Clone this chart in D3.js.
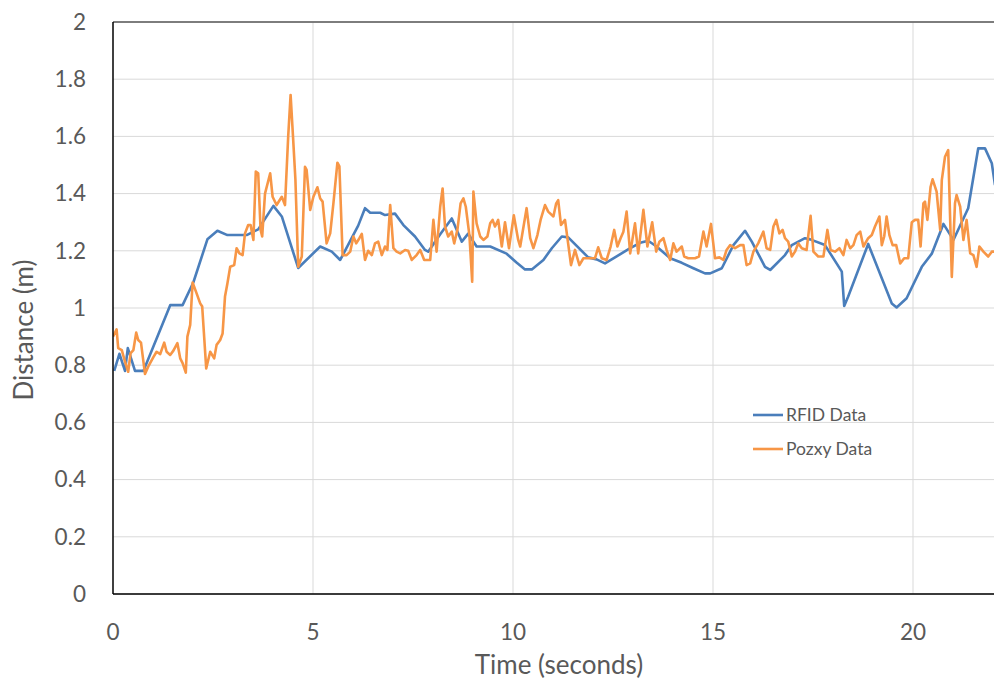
<!DOCTYPE html>
<html><head><meta charset="utf-8">
<script src="https://cdn.jsdelivr.net/npm/d3@7"></script>
<style>body{margin:0;background:#fff;}svg{display:block;}</style>
</head><body>
<svg id="c" width="994" height="679"></svg>
<script>
const rfidTime = [0.03,0.16,0.30,0.37,0.55,0.76,1.43,1.74,2.01,2.36,2.61,2.86,3.34,3.63,4.01,4.22,4.63,5.18,5.47,5.68,6.13,6.30,6.43,6.68,6.80,7.05,7.26,7.55,7.80,7.88,8.18,8.47,8.72,8.88,9.09,9.43,9.84,10.08,10.30,10.47,10.76,10.97,11.22,11.38,11.88,12.09,12.30,12.55,12.93,13.18,13.38,13.59,13.93,14.22,14.51,14.80,14.93,15.22,15.51,15.80,15.97,16.30,16.43,16.80,16.97,17.30,17.43,17.80,18.22,18.28,18.38,18.88,19.47,19.59,19.84,20.22,20.47,20.76,21.01,21.38,21.63,21.80,21.97,22.05];
const rfidDist = [0.78,0.84,0.78,0.86,0.78,0.78,1.01,1.01,1.09,1.24,1.27,1.255,1.255,1.275,1.357,1.32,1.14,1.215,1.197,1.168,1.288,1.349,1.333,1.333,1.325,1.33,1.29,1.25,1.203,1.197,1.258,1.313,1.232,1.26,1.215,1.215,1.19,1.16,1.135,1.135,1.168,1.209,1.25,1.247,1.177,1.17,1.156,1.177,1.209,1.228,1.235,1.215,1.174,1.158,1.139,1.121,1.121,1.139,1.22,1.27,1.232,1.144,1.133,1.185,1.22,1.244,1.24,1.22,1.127,1.007,1.04,1.224,1.016,1.002,1.034,1.144,1.19,1.294,1.238,1.349,1.558,1.558,1.506,1.43];

const pozxyTime = [0.00,0.09,0.13,0.22,0.30,0.38,0.44,0.51,0.58,0.63,0.70,0.80,0.88,1.01,1.09,1.18,1.28,1.34,1.43,1.51,1.61,1.68,1.74,1.82,1.86,1.93,1.99,2.09,2.18,2.23,2.33,2.43,2.53,2.59,2.68,2.74,2.80,2.86,2.93,3.03,3.09,3.16,3.24,3.30,3.38,3.44,3.51,3.57,3.63,3.69,3.73,3.80,3.93,3.99,4.09,4.22,4.30,4.38,4.44,4.50,4.56,4.63,4.72,4.80,4.84,4.93,5.01,5.11,5.18,5.24,5.34,5.43,5.51,5.61,5.66,5.74,5.84,5.93,6.01,6.08,6.16,6.22,6.30,6.38,6.47,6.55,6.63,6.72,6.80,6.86,6.93,7.01,7.09,7.18,7.30,7.38,7.47,7.59,7.68,7.78,7.93,8.01,8.09,8.18,8.24,8.30,8.38,8.47,8.53,8.61,8.69,8.76,8.82,8.91,8.98,9.01,9.09,9.18,9.26,9.36,9.43,9.49,9.55,9.63,9.72,9.80,9.90,10.02,10.13,10.18,10.34,10.43,10.51,10.61,10.69,10.80,10.88,11.01,11.08,11.13,11.20,11.30,11.45,11.55,11.66,11.76,11.93,12.05,12.13,12.22,12.34,12.44,12.53,12.61,12.69,12.76,12.84,12.93,13.05,13.13,13.26,13.36,13.48,13.58,13.66,13.76,13.84,13.93,14.01,14.09,14.22,14.28,14.38,14.55,14.65,14.76,14.84,14.95,15.05,15.16,15.26,15.34,15.43,15.55,15.68,15.76,15.84,15.93,16.01,16.13,16.26,16.34,16.43,16.51,16.58,16.66,16.74,16.80,16.88,16.97,17.05,17.13,17.22,17.34,17.44,17.51,17.63,17.76,17.86,17.94,18.05,18.16,18.26,18.34,18.43,18.51,18.59,18.68,18.76,18.88,18.97,19.05,19.16,19.22,19.28,19.34,19.41,19.49,19.58,19.68,19.78,19.88,19.97,20.05,20.13,20.19,20.26,20.30,20.36,20.44,20.49,20.59,20.68,20.72,20.80,20.88,20.97,21.05,21.09,21.18,21.26,21.34,21.43,21.51,21.59,21.66,21.76,21.88,21.97,22.03];
const pozxyDist = [0.90,0.925,0.86,0.853,0.812,0.777,0.842,0.853,0.914,0.888,0.879,0.769,0.795,0.828,0.847,0.839,0.879,0.847,0.836,0.851,0.877,0.824,0.807,0.774,0.90,0.941,1.089,1.051,1.016,1.005,0.789,0.847,0.824,0.871,0.888,0.911,1.04,1.086,1.144,1.15,1.209,1.191,1.185,1.261,1.29,1.29,1.238,1.477,1.471,1.273,1.25,1.40,1.471,1.389,1.36,1.389,1.36,1.60,1.745,1.60,1.45,1.144,1.18,1.494,1.483,1.343,1.389,1.422,1.383,1.372,1.226,1.261,1.366,1.508,1.495,1.185,1.185,1.197,1.25,1.226,1.244,1.259,1.168,1.20,1.185,1.226,1.232,1.185,1.215,1.203,1.36,1.209,1.197,1.191,1.203,1.20,1.168,1.185,1.203,1.168,1.168,1.308,1.197,1.354,1.418,1.285,1.25,1.267,1.226,1.273,1.366,1.383,1.354,1.255,1.092,1.407,1.296,1.25,1.238,1.25,1.296,1.308,1.285,1.308,1.215,1.30,1.209,1.324,1.238,1.215,1.349,1.244,1.209,1.255,1.308,1.36,1.337,1.32,1.366,1.377,1.29,1.308,1.15,1.203,1.15,1.174,1.174,1.174,1.212,1.174,1.168,1.215,1.273,1.215,1.244,1.267,1.337,1.191,1.296,1.191,1.343,1.215,1.30,1.197,1.232,1.244,1.203,1.168,1.226,1.197,1.215,1.18,1.174,1.174,1.18,1.267,1.215,1.294,1.174,1.177,1.168,1.203,1.22,1.209,1.22,1.22,1.15,1.156,1.197,1.226,1.267,1.209,1.203,1.285,1.308,1.261,1.273,1.244,1.232,1.18,1.197,1.226,1.209,1.203,1.322,1.197,1.18,1.18,1.273,1.203,1.197,1.209,1.185,1.238,1.209,1.22,1.255,1.267,1.215,1.244,1.255,1.285,1.32,1.22,1.25,1.32,1.255,1.22,1.22,1.156,1.174,1.174,1.30,1.308,1.308,1.215,1.366,1.372,1.308,1.424,1.45,1.407,1.273,1.447,1.529,1.552,1.109,1.366,1.395,1.354,1.238,1.308,1.191,1.185,1.144,1.215,1.197,1.18,1.197,1.197];

const xTicks = [0,5,10,15,20];
const yTicks = [0,0.2,0.4,0.6,0.8,1,1.2,1.4,1.6,1.8,2];
const seriesNames = ["RFID Data","Pozxy Data"];
const seriesColors = ["#4A7EBB","#F79646"];

const svg = d3.select("#c");
const L = 113, R = 993, T = 22, B = 594;
const x = d3.scaleLinear().domain([0,22]).range([L,R]);
const y = d3.scaleLinear().domain([0,2]).range([B,T]);
const font = "Lato, 'Open Sans', sans-serif";
const txt = "#595959";

// gridlines
svg.append("g").selectAll("line").data(yTicks).join("line")
  .attr("x1",L).attr("x2",994).attr("y1",d=>y(d)).attr("y2",d=>y(d))
  .attr("stroke","#D9D9D9").attr("stroke-width",1);
svg.append("g").selectAll("line").data(xTicks.filter(d=>d>0)).join("line")
  .attr("x1",d=>x(d)).attr("x2",d=>x(d)).attr("y1",T).attr("y2",B)
  .attr("stroke","#D9D9D9").attr("stroke-width",1);

// clip
svg.append("clipPath").attr("id","clip").append("rect")
  .attr("x",L).attr("y",T-5).attr("width",R-L+1).attr("height",B-T+5);

const line = d3.line().x(d=>x(d[0])).y(d=>y(d[1]));
const rfid = rfidTime.map((t,i)=>[t,rfidDist[i]]);
const pozxy = pozxyTime.map((t,i)=>[t,pozxyDist[i]]);
const g = svg.append("g").attr("clip-path","url(#clip)");
g.append("path").datum(rfid).attr("d",line).attr("fill","none")
  .attr("stroke",seriesColors[0]).attr("stroke-width",2.6).attr("stroke-linejoin","round");
g.append("path").datum(pozxy).attr("d",line).attr("fill","none")
  .attr("stroke",seriesColors[1]).attr("stroke-width",2.6).attr("stroke-linejoin","round");

// frame
svg.append("line").attr("x1",L).attr("x2",994).attr("y1",T).attr("y2",T).attr("stroke","#595959").attr("stroke-width",1.5);
svg.append("line").attr("x1",L).attr("x2",L).attr("y1",T).attr("y2",B).attr("stroke","#000").attr("stroke-width",1.5);
svg.append("line").attr("x1",L).attr("x2",994).attr("y1",B).attr("y2",B).attr("stroke","#000").attr("stroke-width",1.5);

// tick labels
svg.append("g").selectAll("text").data(yTicks).join("text")
  .attr("x",86).attr("y",d=>y(d)).attr("dy","0.35em").attr("text-anchor","end")
  .attr("font-family",font).attr("font-size",22.5).attr("fill",txt).text(d=>d3.format("~g")(d));
svg.append("g").selectAll("text").data(xTicks).join("text")
  .attr("x",d=>x(d)).attr("y",632).attr("dy","0.35em").attr("text-anchor","middle")
  .attr("font-family",font).attr("font-size",22.5).attr("fill",txt).text(d=>d);

// axis titles
svg.append("text").attr("x",559).attr("y",665).attr("dy","0.35em").attr("text-anchor","middle")
  .attr("font-family",font).attr("font-size",26).attr("fill",txt).text("Time (seconds)");
svg.append("text").attr("transform","translate(24,330) rotate(-90)").attr("dy","0.35em").attr("text-anchor","middle")
  .attr("font-family",font).attr("font-size",26).attr("fill",txt).text("Distance (m)");

// legend
const lg = svg.append("g");
seriesNames.forEach((n,i)=>{
  const yy = 415 + i*34;
  lg.append("line").attr("x1",753).attr("x2",783).attr("y1",yy).attr("y2",yy)
    .attr("stroke",seriesColors[i]).attr("stroke-width",2.6);
  lg.append("text").attr("x",786).attr("y",yy).attr("dy","0.35em")
    .attr("font-family",font).attr("font-size",17.5).attr("fill",txt).text(n);
});
</script>
</body></html>
